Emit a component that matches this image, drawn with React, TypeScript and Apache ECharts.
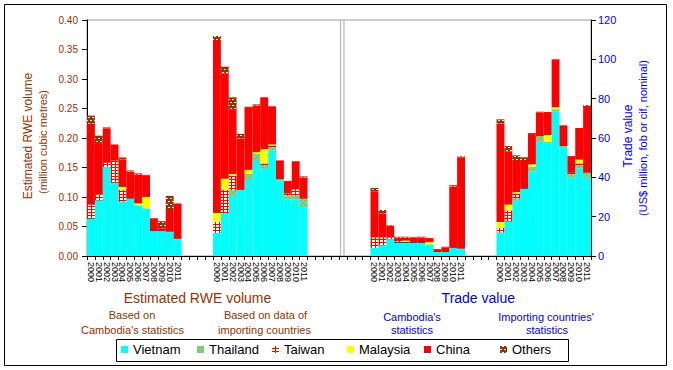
import React, { useEffect, useRef } from 'react';
import * as echarts from 'echarts';

// ---------- data ----------
const years = ['2000', '2001', '2002', '2003', '2004', '2005', '2006', '2007', '2008', '2009', '2010', '2011'];
const countries = ['Vietnam', 'Thailand', 'Taiwan', 'Malaysia', 'China', 'Others'];

// Estimated RWE volume (million m3), based on Cambodia's statistics
const rweCamVietnam = [0.063, 0.094, 0.151, 0.124, 0.092, 0.097, 0.086, 0.080, 0.042, 0.042, 0.041, 0.028];
const rweCamThailand = [0, 0, 0, 0, 0, 0, 0, 0, 0, 0, 0, 0.001];
const rweCamTaiwan = [0.024, 0.010, 0.007, 0.038, 0.020, 0, 0, 0, 0, 0, 0, 0];
const rweCamMalaysia = [0, 0, 0, 0, 0.005, 0, 0.003, 0.020, 0, 0, 0, 0];
const rweCamChina = [0.137, 0.086, 0.058, 0.027, 0.047, 0.046, 0.049, 0.037, 0.022, 0.005, 0.037, 0.060];
const rweCamOthers = [0.014, 0.014, 0.002, 0, 0.003, 0.002, 0.002, 0, 0, 0.012, 0.024, 0];

// Estimated RWE volume, based on data of importing countries
const rweImpVietnam = [0.039, 0.072, 0.102, 0.112, 0.129, 0.161, 0.148, 0.179, 0.128, 0.096, 0.096, 0.083];
const rweImpThailand = [0, 0, 0.010, 0, 0.010, 0.012, 0.006, 0.005, 0.002, 0.006, 0.006, 0.014];
const rweImpTaiwan = [0.019, 0.040, 0.024, 0, 0, 0, 0.003, 0.003, 0, 0.004, 0.011, 0];
const rweImpMalaysia = [0.015, 0.019, 0.003, 0, 0.007, 0.003, 0.024, 0.002, 0, 0, 0, 0];
const rweImpChina = [0.293, 0.178, 0.110, 0.087, 0.105, 0.079, 0.088, 0.064, 0.032, 0.021, 0.047, 0.036];
const rweImpOthers = [0.007, 0.012, 0.020, 0.008, 0.002, 0.002, 0, 0.001, 0, 0, 0.001, 0.002];

// Trade value (US$ million), Cambodia's statistics
const tradeCamVietnam = [4.1, 5.4, 8.6, 6.6, 6.6, 6.6, 6.6, 5.6, 2.0, 2.0, 4.1, 3.4];
const tradeCamThailand = [0, 0, 0, 0, 0, 0, 0, 0, 0, 0, 0, 0.3];
const tradeCamTaiwan = [5.4, 4.1, 0.8, 1.0, 0.6, 0, 0, 0, 0, 0, 0, 0];
const tradeCamMalaysia = [0, 0, 0, 0, 0.6, 0, 0, 1.5, 0, 0, 0, 0];
const tradeCamChina = [23.4, 12.2, 6.0, 1.7, 1.5, 2.9, 2.9, 2.0, 1.5, 2.4, 31.2, 46.5];
const tradeCamOthers = [1.7, 1.7, 0.3, 0.5, 0.5, 0, 0.3, 0, 0, 0.3, 0.7, 0.5];

// Trade value, importing countries' statistics
const tradeImpVietnam = [11.9, 17.5, 28.1, 34.1, 42.9, 58.1, 57.1, 73.4, 55.1, 39.8, 44.6, 39.8];
const tradeImpThailand = [0, 0, 1.0, 0, 2.5, 2.9, 1.0, 1.2, 0.8, 1.7, 1.5, 2.5];
const tradeImpTaiwan = [2.5, 5.7, 2.7, 0, 0, 0, 0, 0, 0, 0.8, 1.0, 0];
const tradeImpMalaysia = [2.9, 2.9, 0.7, 0, 1.2, 0, 3.4, 1.0, 0, 0, 1.9, 0];
const tradeImpChina = [50.0, 27.1, 15.8, 14.2, 15.4, 11.9, 11.7, 24.4, 10.3, 8.5, 16.1, 34.0];
const tradeImpOthers = [2.2, 2.7, 2.9, 1.9, 0.5, 0.5, 0, 0, 0.3, 0, 0, 0.5];

const leftTicks = { min: 0, max: 0.4, interval: 0.05 };
const rightTicks = { min: 0, max: 120, interval: 20 };

// ---------- layout (category slots) ----------
const SLOT_COUNT = 64;
const G1 = 0, G2 = 16, G3 = 36, G4 = 52;
const legendX = [121, 197, 272, 347, 424, 500];

const slotLabels: string[] = Array(SLOT_COUNT).fill('');
[G1, G2, G3, G4].forEach((s) => years.forEach((y, i) => (slotLabels[s + i] = y)));
const slotKeys = slotLabels.map((_, i) => 'slot' + i);

function place(parts: [number, number[]][]) {
  const out: (number | null)[] = Array(SLOT_COUNT).fill(null);
  parts.forEach(([start, arr]) => arr.forEach((v, i) => (out[start + i] = v)));
  return out;
}

const rweByCountry: number[][][] = [
  [rweCamVietnam, rweImpVietnam],
  [rweCamThailand, rweImpThailand],
  [rweCamTaiwan, rweImpTaiwan],
  [rweCamMalaysia, rweImpMalaysia],
  [rweCamChina, rweImpChina],
  [rweCamOthers, rweImpOthers],
];
const tradeByCountry: number[][][] = [
  [tradeCamVietnam, tradeImpVietnam],
  [tradeCamThailand, tradeImpThailand],
  [tradeCamTaiwan, tradeImpTaiwan],
  [tradeCamMalaysia, tradeImpMalaysia],
  [tradeCamChina, tradeImpChina],
  [tradeCamOthers, tradeImpOthers],
];

const styles: any[] = [
  { color: '#00FFFF' },
  {
    color: '#FF9900',
    decal: { symbol: 'rect', symbolSize: 1, color: '#00FFFF', dashArrayX: [[2, 2], [0, 2, 2, 0]], dashArrayY: [2, 0], rotation: 0 },
  },
  {
    color: '#FF0000',
    decal: { symbol: 'rect', symbolSize: 1, color: '#FFFFE0', dashArrayX: [3, 1], dashArrayY: [2, 1], rotation: 0 },
  },
  { color: '#FFFF00' },
  { color: '#FF0000' },
  {
    color: '#993300',
    decal: { symbol: 'rect', symbolSize: 1, color: '#FFFFFF', dashArrayX: [[2, 2], [0, 2, 2, 0]], dashArrayY: [1, 2], rotation: 0 },
  },
];

const FONT = "'Liberation Sans', Arial, sans-serif";
const BROWN = '#993300';
const BLUE = '#0000FF';

export default function App() {
  const ref = useRef<HTMLDivElement>(null);

  useEffect(() => {
    if (!ref.current) return;
    const chart = echarts.init(ref.current, undefined, { renderer: 'svg' });

    const series: any[] = [];
    countries.forEach((name, ci) => {
      series.push({
        name,
        type: 'bar',
        stack: 'rwe',
        xAxisIndex: 0,
        yAxisIndex: 0,
        barCategoryGap: '0%',
        barGap: '0%',
        itemStyle: styles[ci],
        data: place([[G1, rweByCountry[ci][0]], [G2, rweByCountry[ci][1]]]),
      });
    });
    countries.forEach((name, ci) => {
      series.push({
        name,
        type: 'bar',
        stack: 'trade',
        xAxisIndex: 1,
        yAxisIndex: 1,
        barCategoryGap: '0%',
        barGap: '0%',
        itemStyle: styles[ci],
        data: place([[G3, tradeByCountry[ci][0]], [G4, tradeByCountry[ci][1]]]),
      });
    });

    const txt = (text: string, x: number, y: number, size: number, color: string, rotation = 0) => ({
      type: 'text',
      x,
      y,
      rotation,
      silent: true,
      style: { text, fill: color, font: `${size}px ${FONT}`, align: 'center', verticalAlign: 'middle' },
    });

    const legends = countries.map((name, i) => ({
      data: [name],
      left: legendX[i],
      top: 343,
      padding: 0,
      itemWidth: 7,
      itemHeight: 7,
      icon: 'rect',
      selectedMode: false,
      textStyle: { fontSize: 13, color: '#000000', fontFamily: FONT },
    }));

    chart.setOption({
      animation: false,
      textStyle: { fontFamily: FONT },
      grid: { left: 87, right: 82, top: 20, bottom: 114, show: true, borderColor: '#999999', borderWidth: 1 },
      legend: legends,
      xAxis: [
        {
          type: 'category',
          data: slotKeys,
          gridIndex: 0,
          axisLine: { lineStyle: { color: '#000000', width: 1 } },
          axisTick: { show: true, interval: 0, length: 4, lineStyle: { color: '#000000' } },
          axisLabel: {
            interval: 0,
            rotate: -90,
            margin: 6,
            fontSize: 9,
            color: '#000000',
            formatter: (_v: string, idx: number) => slotLabels[idx],
          },
          splitLine: { show: false },
        },
        {
          type: 'category',
          data: slotKeys,
          gridIndex: 0,
          show: false,
        },
      ],
      yAxis: [
        {
          type: 'value',
          position: 'left',
          min: leftTicks.min,
          max: leftTicks.max,
          interval: leftTicks.interval,
          axisLine: { show: true, lineStyle: { color: '#000000' } },
          axisTick: { show: true, length: 5, lineStyle: { color: '#000000' } },
          axisLabel: { fontSize: 10, color: BROWN, margin: 9, formatter: (v: number) => v.toFixed(2) },
          splitLine: { show: false },
        },
        {
          type: 'value',
          position: 'right',
          min: rightTicks.min,
          max: rightTicks.max,
          interval: rightTicks.interval,
          axisLine: { show: true, lineStyle: { color: '#000000' } },
          axisTick: { show: true, length: 5, lineStyle: { color: '#000000' } },
          axisLabel: { fontSize: 11, color: BLUE, margin: 7 },
          splitLine: { show: false },
        },
      ],
      graphic: [
        {
          type: 'rect',
          silent: true,
          z: -10,
          shape: { x: 4.5, y: 4.5, width: 662, height: 361 },
          style: { fill: 'none', stroke: '#000000', lineWidth: 1 },
        },
        {
          type: 'rect',
          silent: true,
          shape: { x: 116.5, y: 339.5, width: 452, height: 22 },
          style: { fill: 'none', stroke: '#000000', lineWidth: 1 },
        },
        {
          type: 'line',
          silent: true,
          shape: { x1: 340.5, y1: 20, x2: 340.5, y2: 256 },
          style: { stroke: '#BBBBBB', lineWidth: 1.3 },
        },
        {
          type: 'line',
          silent: true,
          shape: { x1: 344, y1: 20, x2: 344, y2: 256 },
          style: { stroke: '#BBBBBB', lineWidth: 1.3 },
        },
        txt('Estimated RWE volume', 28, 136, 12, BROWN, Math.PI / 2),
        txt('(million cubic metres)', 43, 142, 11, BROWN, Math.PI / 2),
        txt('Trade value', 628, 136, 12, BLUE, Math.PI / 2),
        txt('(US$ million, fob or cif, nominal)', 643, 138, 11, BLUE, Math.PI / 2),
        txt('Estimated RWE volume', 197.5, 298, 14, BROWN),
        txt('Based on', 132, 315, 11, BROWN),
        txt("Cambodia's statistics", 132.5, 329.5, 11, BROWN),
        txt('Based on data of', 265.5, 315, 11, BROWN),
        txt('importing countries', 264.5, 329.5, 11, BROWN),
        txt('Trade value', 478.3, 298, 14, BLUE),
        txt("Cambodia's", 412, 317, 11, BLUE),
        txt('statistics', 412, 330, 11, BLUE),
        txt("Importing countries'", 546, 317, 11, BLUE),
        txt('statistics', 547, 330, 11, BLUE),
      ],
      series,
    });

    return () => chart.dispose();
  }, []);

  return (
    <div
      ref={ref}
      style={{ position: 'fixed', left: 0, top: 0, width: 673, height: 370, background: '#FFFFFF' }}
    />
  );
}
